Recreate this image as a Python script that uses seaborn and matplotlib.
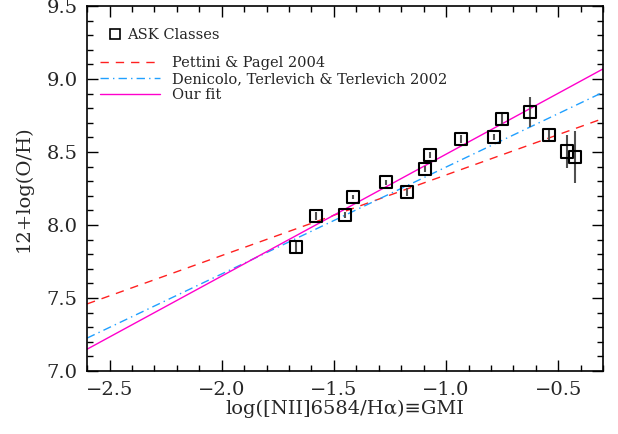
import seaborn as sns
import matplotlib.pyplot as plt
import pandas as pd
import numpy as np
from matplotlib.lines import Line2D

sns.set_theme(style="ticks")
plt.rcParams['font.family'] = ['DejaVu Serif', 'DejaVu Sans']

# ASK class points
gmi = [-1.668, -1.582, -1.450, -1.414, -1.267, -1.176, -1.096, -1.070, -0.932, -0.788, -0.749, -0.628, -0.540, -0.462, -0.427]
oh = [7.850, 8.062, 8.068, 8.191, 8.292, 8.227, 8.384, 8.479, 8.590, 8.603, 8.724, 8.774, 8.616, 8.504, 8.465]
oh_err = [0.045, 0.025, 0.02, 0.015, 0.015, 0.025, 0.02, 0.02, 0.03, 0.02, 0.045, 0.10, 0.035, 0.11, 0.18]

# calibration lines (end points over the x range)
line_x = [-2.6, -0.3]
pp04_y = [7.46, 8.73]
d02_y = [7.226, 8.91]
fit_y = [7.15, 9.07]

df = pd.DataFrame({'gmi': gmi, 'oh': oh})

fig = plt.figure(figsize=(6.18, 4.34), dpi=100)
ax = fig.add_axes([0.141, 0.145, 0.835, 0.841])

sns.lineplot(x=line_x, y=pp04_y, color='#ff2020', linestyle=(0, (6, 5)), lw=1.0, ax=ax)
sns.lineplot(x=line_x, y=d02_y, color='#20a0ff', linestyle=(0, (6, 3, 1, 3)), lw=1.0, ax=ax)
sns.lineplot(x=line_x, y=fit_y, color='#ff00cc', lw=1.0, ax=ax)

ax.errorbar(gmi, oh, yerr=oh_err, fmt='none', ecolor='#505050', elinewidth=1.5, capsize=0)
sns.scatterplot(data=df, x='gmi', y='oh', marker='s', s=75, facecolor='none',
                edgecolor='black', linewidth=1.5, ax=ax, zorder=5)

ax.set_xlim(-2.6, -0.3)
ax.set_ylim(7.0, 9.5)
ax.set_xticks(np.arange(-2.5, -0.49, 0.5))
ax.set_yticks(np.arange(7.0, 9.51, 0.5))
ax.set_xticklabels(['\u22122.5', '\u22122.0', '\u22121.5', '\u22121.0', '\u22120.5'])
ax.set_yticklabels(['7.0', '7.5', '8.0', '8.5', '9.0', '9.5'])
ax.xaxis.set_minor_locator(plt.MultipleLocator(0.1))
ax.yaxis.set_minor_locator(plt.MultipleLocator(0.1))
ax.tick_params(which='both', direction='in', top=True, right=True, labelsize=14, width=1, color='black', pad=7)
ax.tick_params(which='major', length=8)
ax.tick_params(which='minor', length=4)
for s in ax.spines.values():
    s.set_linewidth(1.2)
    s.set_color('black')

ax.set_xlabel('log([NII]6584/H\u03b1)\u2261GMI', fontsize=14, labelpad=1)
ax.set_ylabel('12+log(O/H)', fontsize=14, labelpad=10)

h_ask = [Line2D([], [], marker='s', ls='none', mfc='none', mec='black', ms=7, mew=1.2)]
leg1 = ax.legend(h_ask, ['ASK Classes'], loc='upper left', bbox_to_anchor=(0.02, 0.975),
                 frameon=False, fontsize=10.5, handlelength=0.6, handletextpad=0.5)
ax.add_artist(leg1)
h_lines = [Line2D([], [], color='#ff2020', ls=(0, (6, 5)), lw=1.0),
           Line2D([], [], color='#20a0ff', ls=(0, (6, 3, 1, 3)), lw=1.0),
           Line2D([], [], color='#ff00cc', lw=1.0)]
ax.legend(h_lines, ['Pettini & Pagel 2004', 'Denicolo, Terlevich & Terlevich 2002', 'Our fit'],
          loc='upper left', bbox_to_anchor=(0.0, 0.90), frameon=False, fontsize=10.5,
          handlelength=4.1, handletextpad=0.8, labelspacing=0.15)

fig.savefig('out.png', dpi=100)
